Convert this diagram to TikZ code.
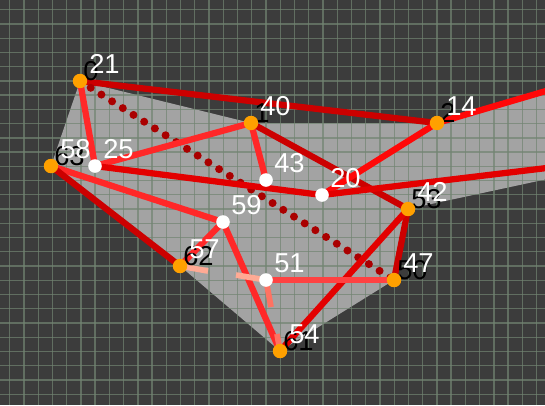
\documentclass[tikz,border=0pt]{standalone}
\usepackage{fontspec}
\setsansfont{Liberation Sans}
\definecolor{mapbg}{HTML}{3C3C3C}
\definecolor{areafill}{HTML}{A3A3A3}
\definecolor{gridline}{HTML}{728472}
\definecolor{stopfill}{HTML}{FFA000}
\definecolor{linkdeep}{HTML}{AA0000}
\definecolor{linkdark}{HTML}{CC0000}
\definecolor{linkmid}{HTML}{E30000}
\definecolor{linkhot}{HTML}{FF0808}
\definecolor{linkwarm}{HTML}{FF2828}
\definecolor{linksoft}{HTML}{FF4242}
\definecolor{spurpale}{HTML}{FFAA94}
\definecolor{spurrose}{HTML}{FF7262}

\begin{document}
\begin{tikzpicture}[x=0.75pt, y=-0.75pt,
  stopdot/.style={circle, fill=stopfill, minimum size=10.5pt, inner sep=0pt},
  viadot/.style={circle, fill=white, minimum size=10pt, inner sep=0pt},
  wlab/.style={text=white, font=\sffamily\fontsize{20.5}{21}\selectfont,
               anchor=base west, inner sep=0pt},
  blab/.style={text=black, font=\sffamily\fontsize{20.5}{21}\selectfont,
               anchor=base west, inner sep=0pt},
  gridln/.style={draw=gridline, line width=1pt, opacity=0.7},
  link/.style={line width=4.7pt},
  spur/.style={line width=4.3pt},
  dotlink/.style={draw=linkdeep, line width=6pt, line cap=round,
                  dash pattern=on 0pt off 9.5pt},
]
\useasboundingbox (0,0) rectangle (545,405);
\clip (0,0) rectangle (545,405);
\fill[mapbg] (0,0) rectangle (545,405);

% stops (orange) and via points (white)
\node[stopdot] (stop0)  at (80,81)   {};
\node[stopdot] (stop1)  at (251,123) {};
\node[stopdot] (stop2)  at (437,123) {};
\node[stopdot] (stop63) at (51,166)  {};
\node[stopdot] (stop62) at (180,266) {};
\node[stopdot] (stop53) at (408,209) {};
\node[stopdot] (stop50) at (394,280) {};
\node[stopdot] (stop61) at (280,351) {};
\node[viadot] (via25) at (95,166)  {};
\node[viadot] (via43) at (266,180) {};
\node[viadot] (via20) at (322,195) {};
\node[viadot] (via59) at (223,222) {};
\node[viadot] (via51) at (266,280) {};
\coordinate (eastA) at (580,81);
\coordinate (eastB) at (580,164);
\coordinate (eastC) at (580,172);
\coordinate (spurE)  at (208,271);
\coordinate (spurW)  at (236,275);
\coordinate (spurS)  at (271,307);
\coordinate (spurH)  at (277,334);

% covered area
\fill[areafill] (stop0.center) -- (stop1.center) -- (stop2.center) -- (eastA)
  -- (eastC) -- (stop53.center) -- (stop50.center) -- (stop61.center)
  -- (stop62.center) -- (stop63.center) -- cycle;

% grid
\foreach \k in {0,...,37}
  \draw[gridln] ({9.7+14.24*\k},0) -- ({9.7+14.24*\k},405);
\foreach \k in {0,...,28}
  \draw[gridln] (0,{9.7+14.24*\k}) -- (545,{9.7+14.24*\k});

% links
\draw[link, linkdark] (stop0.center) -- (stop2.center);
\draw[link, linkhot] (stop2.center) -- (eastA);
\draw[dotlink] (stop0.center) -- (stop50.center);
\draw[link, linkwarm] (stop0.center) -- (via25.center);
\draw[link, linkwarm] (via25.center) -- (stop1.center);
\draw[link, linkmid] (via25.center) -- (via20.center);
\draw[link, linkwarm] (stop1.center) -- (via43.center);
\draw[link, linkdark] (stop1.center) -- (stop53.center);
\draw[link, linkhot] (via20.center) -- (stop2.center);
\draw[link, linkmid] (via20.center) -- (eastB);
\draw[link, linkwarm] (stop63.center) -- (via59.center);
\draw[link, linkdark] (stop63.center) -- (stop62.center);
\draw[link, linkwarm] (via59.center) -- (stop62.center);
\draw[link, linkwarm] (via59.center) -- (stop61.center);
\draw[link, linkdark] (stop53.center) -- (stop50.center);
\draw[link, linkmid] (stop53.center) -- (stop61.center);
\draw[link, linksoft] (via51.center) -- (stop50.center);
% short spurs
\draw[spur, spurpale] (stop62.center) -- (spurE);
\draw[spur, spurpale] (via51.center) -- (spurW);
\draw[spur, spurrose] (via51.center) -- (spurS);
\draw[spur, spurrose] (stop61.center) -- (spurH);

% stop ids (black, behind)
\node[blab] (id0)  at ([shift={(3,-1)}]stop0.center)  {0};
\node[blab] (id1)  at ([shift={(3,-1)}]stop1.center)  {1};
\node[blab] (id2)  at ([shift={(3,-1)}]stop2.center)  {2};
\node[blab] (id63) at ([shift={(3,-1)}]stop63.center) {63};
\node[blab] (id62) at ([shift={(3,-1)}]stop62.center) {62};
\node[blab] (id53) at ([shift={(3,-1)}]stop53.center) {53};
\node[blab] (id50) at ([shift={(3,-1)}]stop50.center) {50};
\node[blab] (id61) at ([shift={(3,-1)}]stop61.center) {61};

% redraw dots over links
\foreach \n in {stop0,stop1,stop2,stop63,stop62,stop53,stop50,stop61}
  \fill[stopfill] (\n.center) circle (7.2);
\foreach \n in {via25,via43,via20,via59,via51}
  \fill[white] (\n.center) circle (6.8);

% labels (white)
\node[wlab] (lab0)  at ([shift={(9,-8)}]stop0.center)  {21};
\node[wlab] (lab1)  at ([shift={(9,-8)}]stop1.center)  {40};
\node[wlab] (lab2)  at ([shift={(9,-8)}]stop2.center)  {14};
\node[wlab] (lab63) at ([shift={(9,-8)}]stop63.center) {58};
\node[wlab] (lab62) at ([shift={(9,-8)}]stop62.center) {57};
\node[wlab] (lab53) at ([shift={(9,-8)}]stop53.center) {42};
\node[wlab] (lab50) at ([shift={(9,-8)}]stop50.center) {47};
\node[wlab] (lab61) at ([shift={(9,-8)}]stop61.center) {54};
\node[wlab] (lab25) at ([shift={(8,-8)}]via25.center) {25};
\node[wlab] (lab43) at ([shift={(8,-8)}]via43.center) {43};
\node[wlab] (lab20) at ([shift={(8,-8)}]via20.center) {20};
\node[wlab] (lab59) at ([shift={(8,-8)}]via59.center) {59};
\node[wlab] (lab51) at ([shift={(8,-8)}]via51.center) {51};
\end{tikzpicture}
\end{document}
